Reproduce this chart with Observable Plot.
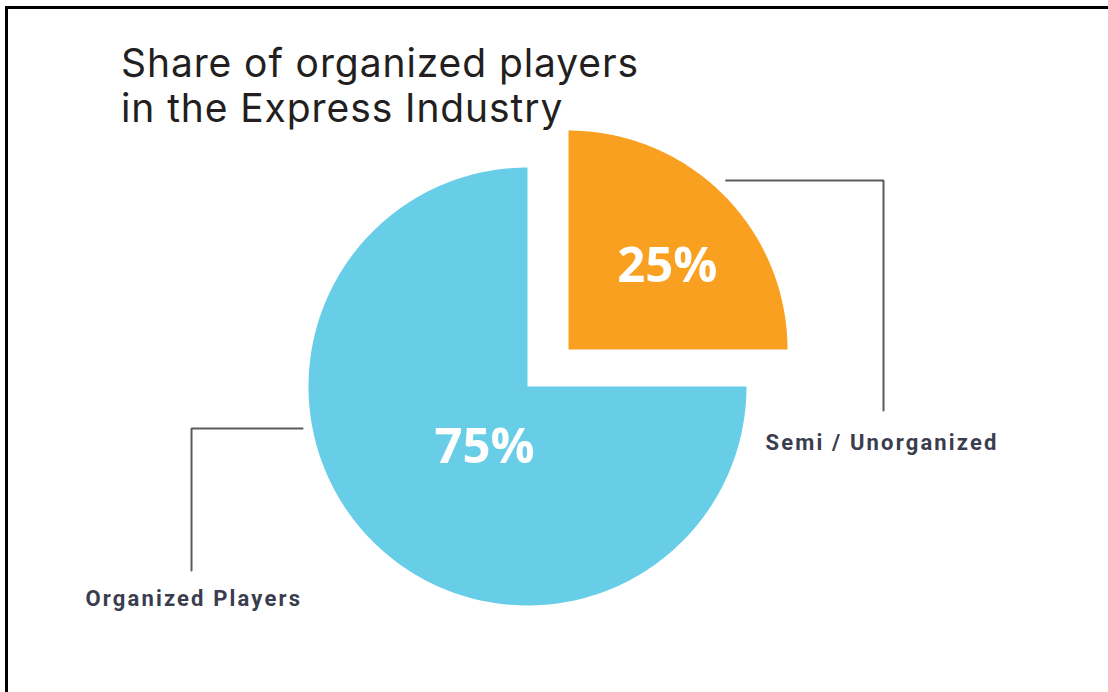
<!DOCTYPE html>
<html>
<head>
<meta charset="utf-8">
<script src="https://cdn.jsdelivr.net/npm/d3@7"></script>
<script src="https://cdn.jsdelivr.net/npm/@observablehq/plot@0.6"></script>
<style>
  html, body { margin: 0; padding: 0; background: #fff; }
  #wrap { position: relative; width: 1108px; height: 692px; overflow: hidden; }
  #frame { position: absolute; left: 5px; top: 6px; width: 1200px; height: 800px;
           border-top: 3px solid #000; border-left: 3px solid #000; box-sizing: border-box; }
  #title { position: absolute; left: 121px; top: 40px; font-family: Inter, sans-serif;
           font-size: 39px; font-weight: 400; line-height: 45px; letter-spacing: 0.9px; color: #231f20; margin: 0; }
  #chart { position: absolute; left: 0; top: 0; }
</style>
</head>
<body>
<div id="wrap">
  <div id="chart"></div>
  <div id="frame"></div>
  <h1 id="title">Share of organized players<br>in the Express Industry</h1>
</div>
<script>
// ---- data ----
const categories = ["Semi / Unorganized", "Organized Players"];
const shares = [25, 75];
const pctLabels = ["25%", "75%"];
const colors = ["#F9A021", "#68CDE7"];

// ---- layout (pixels) ----
const W = 1108, H = 692, CX = 527, CY = 386, R = 219;
const explode = [0.252, 0];                 // offset distance, in radii
const explodeTilt = 3 * Math.PI / 180;      // direction tilt from mid-angle
const labelRadius = [0.6, 0.4];
const labelShift = [[6, 10], [19, -1]];

const rows = categories.map((c, i) => ({cat: c, value: shares[i], pct: pctLabels[i], i}));
const arcs = d3.pie().sort(null).value(d => d.value)(rows);

function offsetOf(a) {
  const i = a.data.i;
  const dir = (a.startAngle + a.endAngle) / 2 + explodeTilt;
  return [explode[i] * Math.sin(dir), explode[i] * Math.cos(dir)];
}

const wedgePts = [];
const pctPts = [];
arcs.forEach(a => {
  const i = a.data.i;
  const mid = (a.startAngle + a.endAngle) / 2;
  const [ox, oy] = offsetOf(a);
  wedgePts.push({cat: a.data.cat, x: ox, y: oy});
  const n = 240;
  for (let k = 0; k <= n; k++) {
    const t = a.startAngle + (a.endAngle - a.startAngle) * k / n;
    wedgePts.push({cat: a.data.cat, x: ox + Math.sin(t), y: oy + Math.cos(t)});
  }
  wedgePts.push({cat: a.data.cat, x: ox, y: oy});
  pctPts.push({i, text: a.data.pct,
    x: ox + labelRadius[i] * Math.sin(mid), y: oy + labelRadius[i] * Math.cos(mid)});
});

// leader lines: start on the slice rim, elbow horizontally, then drop vertically
const leaderSpec = [
  {angle: 43 * Math.PI / 180, r: 1.055, elbowX: 1.6256, endY: -0.1096, labelX: 1.0868, labelY: -0.258},
  {angle: 259.4 * Math.PI / 180, r: 1.045, elbowX: -1.5342, endY: -0.8402, labelX: -2.0183, labelY: -0.968}
];
const leaderPts = [];
const catLabels = [];
arcs.forEach(a => {
  const i = a.data.i, s = leaderSpec[i];
  const [ox, oy] = offsetOf(a);
  const sx = ox + s.r * Math.sin(s.angle), sy = oy + s.r * Math.cos(s.angle);
  leaderPts.push({cat: a.data.cat, x: sx, y: sy});
  leaderPts.push({cat: a.data.cat, x: s.elbowX, y: sy});
  leaderPts.push({cat: a.data.cat, x: s.elbowX, y: s.endY});
  catLabels.push({text: a.data.cat, x: s.labelX, y: s.labelY});
});

const chart = Plot.plot({
  width: W, height: H, margin: 0,
  x: {domain: [-CX / R, (W - CX) / R], axis: null},
  y: {domain: [(CY - H) / R, CY / R], axis: null},
  color: {domain: categories, range: colors},
  style: {background: "transparent", overflow: "visible"},
  marks: [
    Plot.line(wedgePts, {x: "x", y: "y", z: "cat", fill: "cat", stroke: "none", curve: "linear"}),
    Plot.line(leaderPts, {x: "x", y: "y", z: "cat", stroke: "#5b5b5b", strokeWidth: 2, strokeLinejoin: "miter"}),
    Plot.text(pctPts.filter(d => d.i === 0), {x: "x", y: "y", text: "text", dx: labelShift[0][0], dy: labelShift[0][1],
      fill: "white", fontSize: 49, fontWeight: 700, fontFamily: "Open Sans", lineAnchor: "middle"}),
    Plot.text(pctPts.filter(d => d.i === 1), {x: "x", y: "y", text: "text", dx: labelShift[1][0], dy: labelShift[1][1],
      fill: "white", fontSize: 49, fontWeight: 700, fontFamily: "Open Sans", lineAnchor: "middle"}),
    Plot.text(catLabels, {x: "x", y: "y", text: "text", textAnchor: "start", lineAnchor: "middle",
      fill: "#3a3d4e", fontSize: 22, fontWeight: 700, fontFamily: "Roboto"})
  ]
});
d3.select(chart).selectAll("text")
  .filter(function () { return categories.includes(this.textContent); })
  .style("letter-spacing", "2.15px");
document.getElementById("chart").appendChild(chart);
</script>
</body>
</html>
